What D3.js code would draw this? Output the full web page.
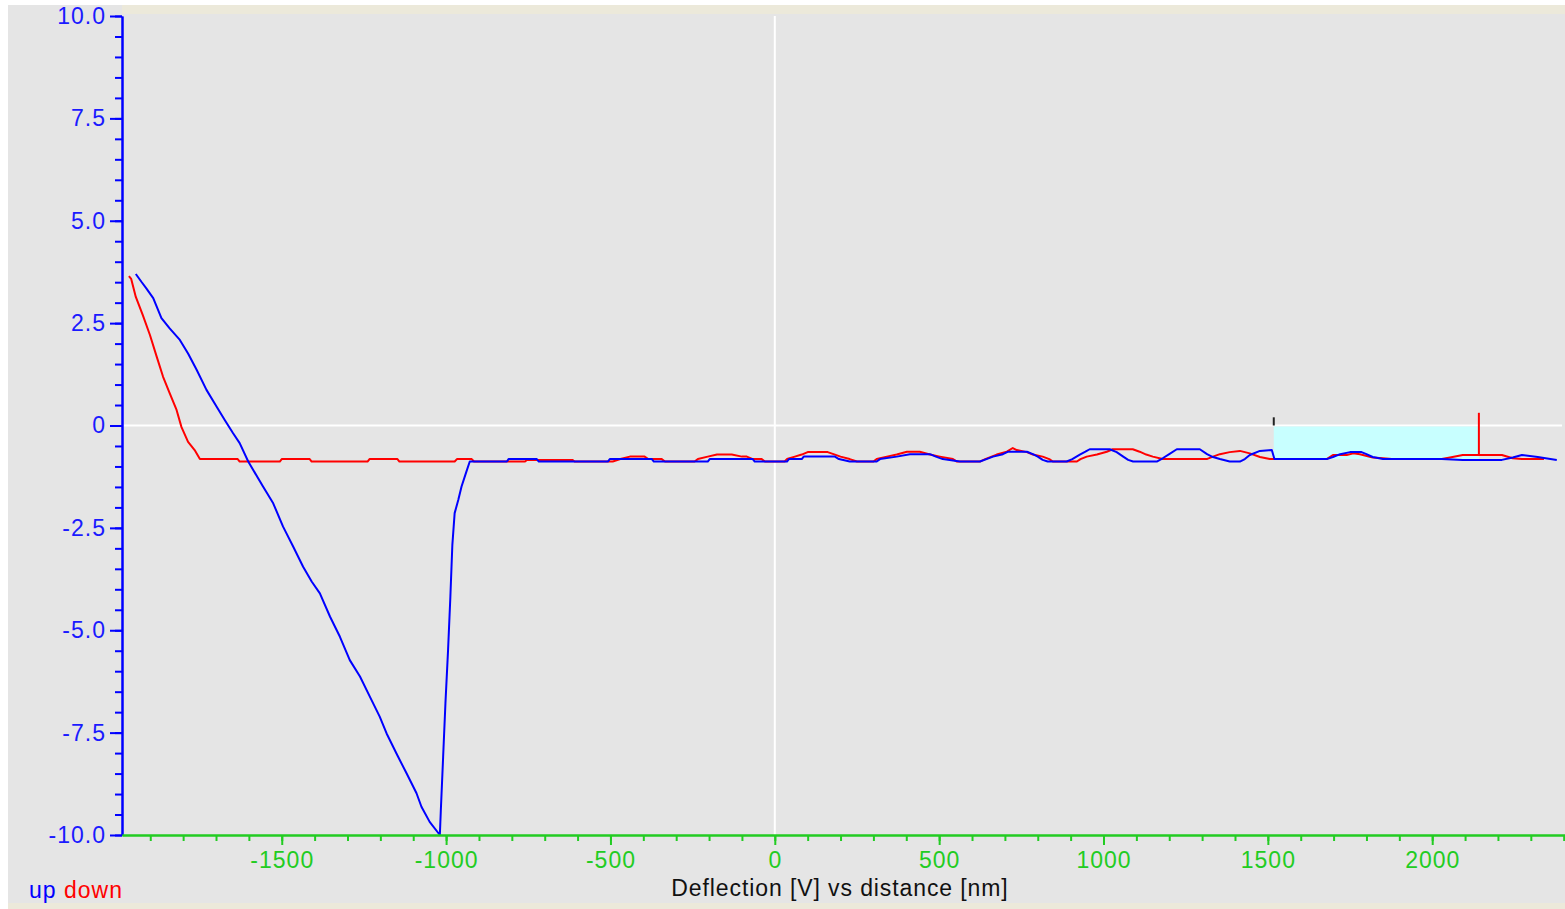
<!DOCTYPE html>
<html>
<head>
<meta charset="utf-8">
<script src="https://cdn.jsdelivr.net/npm/d3@7"></script>
<style>
  html, body { margin: 0; padding: 0; background: #ffffff; }
  svg { display: block; }
  text { font-family: "Liberation Sans", Arial, sans-serif; }
</style>
</head>
<body>
<svg id="chart" width="1565" height="909"></svg>
<script>
// ---- data ----
const upX = [-1944,-1927,-1912,-1891,-1866,-1841,-1810,-1785,-1759,-1729,-1698,-1673,-1648,-1628,-1602,-1557,-1526,-1496,-1465,-1435,-1409,-1384,-1353,-1323,-1293,-1262,-1232,-1202,-1181,-1151,-1120,-1090,-1075,-1050,-1019,-1016,-1009,-1002,-994,-987,-981,-974,-963,-953,-940,-928,-815,-810,-724,-718,-508,-502,-374,-368,-204,-198,-67,-61,37,43,82,88,183,195,228,310,320,371,411,472,490,511,563,624,644,664,694,710,767,785,800,815,830,888,905,928,945,958,1019,1040,1060,1075,1090,1162,1180,1200,1223,1293,1315,1333,1354,1384,1415,1430,1445,1476,1512,1520,1679,1698,1720,1750,1785,1800,1819,1850,2029,2093,2212,2245,2273,2321,2379];
const upY = [3.70,3.51,3.35,3.11,2.62,2.37,2.09,1.76,1.36,0.87,0.46,0.13,-0.19,-0.43,-0.88,-1.49,-1.90,-2.47,-2.96,-3.45,-3.81,-4.10,-4.67,-5.16,-5.73,-6.13,-6.62,-7.11,-7.52,-8.01,-8.50,-8.98,-9.31,-9.68,-10.0,-9.39,-8.09,-6.78,-5.48,-4.18,-2.92,-2.14,-1.82,-1.49,-1.17,-0.88,-0.88,-0.82,-0.82,-0.88,-0.88,-0.82,-0.82,-0.88,-0.88,-0.82,-0.82,-0.88,-0.88,-0.82,-0.82,-0.76,-0.76,-0.82,-0.88,-0.88,-0.82,-0.76,-0.70,-0.70,-0.76,-0.82,-0.88,-0.88,-0.82,-0.76,-0.70,-0.64,-0.64,-0.70,-0.76,-0.84,-0.88,-0.88,-0.82,-0.71,-0.64,-0.58,-0.58,-0.65,-0.76,-0.84,-0.88,-0.88,-0.80,-0.70,-0.58,-0.58,-0.70,-0.77,-0.82,-0.88,-0.88,-0.82,-0.72,-0.62,-0.60,-0.82,-0.82,-0.77,-0.70,-0.65,-0.65,-0.70,-0.77,-0.82,-0.82,-0.84,-0.84,-0.78,-0.72,-0.77,-0.84];

const downX = [-1965,-1958,-1944,-1923,-1901,-1880,-1861,-1841,-1820,-1805,-1785,-1765,-1749,-1634,-1628,-1506,-1500,-1415,-1409,-1239,-1233,-1148,-1142,-974,-967,-922,-915,-760,-754,-615,-609,-493,-470,-441,-396,-385,-344,-334,-244,-234,-204,-176,-131,-100,-85,-67,-40,-30,30,37,61,82,100,161,183,200,228,250,300,310,341,371,402,441,472,502,542,554,624,640,675,706,724,736,767,785,815,835,846,919,930,949,980,1010,1028,1089,1110,1130,1150,1180,1314,1333,1354,1384,1415,1445,1476,1506,1679,1698,1740,1760,1780,1819,1850,1877,2029,2054,2093,2212,2245,2273,2321,2340];
const downY = [3.65,3.58,3.14,2.70,2.21,1.67,1.19,0.79,0.38,-0.04,-0.40,-0.60,-0.82,-0.82,-0.88,-0.88,-0.82,-0.82,-0.88,-0.88,-0.82,-0.82,-0.88,-0.88,-0.82,-0.82,-0.88,-0.88,-0.84,-0.84,-0.88,-0.88,-0.82,-0.76,-0.76,-0.82,-0.82,-0.88,-0.88,-0.82,-0.76,-0.71,-0.71,-0.76,-0.76,-0.82,-0.82,-0.88,-0.88,-0.82,-0.76,-0.71,-0.65,-0.65,-0.71,-0.76,-0.82,-0.88,-0.88,-0.82,-0.76,-0.71,-0.64,-0.64,-0.71,-0.76,-0.82,-0.88,-0.88,-0.82,-0.71,-0.64,-0.55,-0.60,-0.65,-0.71,-0.76,-0.82,-0.88,-0.88,-0.82,-0.76,-0.71,-0.64,-0.58,-0.58,-0.64,-0.71,-0.76,-0.82,-0.82,-0.76,-0.70,-0.65,-0.62,-0.68,-0.77,-0.82,-0.82,-0.72,-0.72,-0.68,-0.70,-0.78,-0.80,-0.82,-0.82,-0.78,-0.72,-0.72,-0.80,-0.82,-0.82,-0.82];

const xMajorTicks = [-1500,-1000,-500,0,500,1000,1500,2000];
const xTickLabels = ["-1500","-1000","-500","0","500","1000","1500","2000"];
const yMajorTicks = [10,7.5,5,2.5,0,-2.5,-5,-7.5,-10];
const yTickLabels = ["10.0","7.5","5.0","2.5","0","-2.5","-5.0","-7.5","-10.0"];
const xDomain = [-1986, 2404];
const yDomain = [-10, 10];
const selectionRange = [1518, 2142];   // highlighted cursor window
const selectionDepth = -0.82;
const startCursorTop = 0.2;
const endCursorTop = 0.31;
const endCursorBottom = -0.72;
const titleText = "Deflection [V] vs distance [nm]";
const legendItems = [{label: "up", color: "#0000ff"}, {label: "down", color: "#ff0000"}];

// ---- layout ----
const svg = d3.select("#chart");
const W = 1565, H = 909;
const plotLeft = 122, plotRight = 1565, plotTop = 16, plotBottom = 835;

const x = d3.scaleLinear().domain(xDomain).range([plotLeft, plotRight]);
const y = d3.scaleLinear().domain(yDomain).range([plotBottom, plotTop]);

// background panels
svg.append("rect").attr("x", 0).attr("y", 0).attr("width", W).attr("height", H).attr("fill", "#ffffff");
svg.append("rect").attr("x", 8).attr("y", 5).attr("width", W - 8).attr("height", 898).attr("fill", "#e5e5e5");
svg.append("rect").attr("x", plotLeft).attr("y", 5).attr("width", W - plotLeft).attr("height", 9).attr("fill", "#ece9da");
svg.append("rect").attr("x", 8).attr("y", 903).attr("width", W - 8).attr("height", 6).attr("fill", "#ece9da");

// white zero grid lines
svg.append("line").attr("x1", plotLeft).attr("x2", 1562).attr("y1", y(0)).attr("y2", y(0))
  .attr("stroke", "#ffffff").attr("stroke-width", 2);
svg.append("line").attr("x1", x(0)).attr("x2", x(0)).attr("y1", plotTop).attr("y2", plotBottom)
  .attr("stroke", "#ffffff").attr("stroke-width", 2);

// cyan selection
svg.append("rect")
  .attr("x", x(selectionRange[0])).attr("y", y(0) + 1)
  .attr("width", x(selectionRange[1]) - x(selectionRange[0]))
  .attr("height", y(selectionDepth) - y(0) - 1)
  .attr("fill", "#c8ffff");
svg.append("line").attr("x1", x(selectionRange[0])).attr("x2", x(selectionRange[0]))
  .attr("y1", y(startCursorTop)).attr("y2", y(0)).attr("stroke", "#222").attr("stroke-width", 2);

// series
const line = d3.line().x(d => x(d[0])).y(d => y(d[1]));
const downData = downX.map((v, i) => [v, downY[i]]);
const upData = upX.map((v, i) => [v, upY[i]]);
svg.append("path").datum(downData).attr("d", line).attr("fill", "none")
  .attr("stroke", "#ff0000").attr("stroke-width", 2).attr("stroke-linejoin", "round");
svg.append("line").attr("x1", x(selectionRange[1])).attr("x2", x(selectionRange[1]))
  .attr("y1", y(endCursorTop)).attr("y2", y(endCursorBottom)).attr("stroke", "#ff0000").attr("stroke-width", 2);
svg.append("path").datum(upData).attr("d", line).attr("fill", "none")
  .attr("stroke", "#0000ff").attr("stroke-width", 2).attr("stroke-linejoin", "round");

// y axis
const yMinor = d3.range(-10, 10.001, 0.5);
const yAxisMinor = svg.append("g").attr("transform", `translate(${plotLeft},0)`)
  .call(d3.axisLeft(y).tickValues(yMinor).tickSize(7).tickSizeOuter(0).tickFormat(""));
const yAxis = svg.append("g").attr("transform", `translate(${plotLeft},0)`)
  .call(d3.axisLeft(y).tickValues(yMajorTicks).tickSize(12).tickSizeOuter(0).tickPadding(4)
    .tickFormat((d, i) => yTickLabels[i]));
[yAxisMinor, yAxis].forEach(g => {
  g.selectAll("path.domain").attr("stroke", "#0000ff").attr("stroke-width", 2);
  g.selectAll(".tick line").attr("stroke", "#0000ff").attr("stroke-width", 2);
});
yAxis.selectAll(".tick text").attr("fill", "#1a1aff")
  .style("font-size", "23px").style("letter-spacing", "1px")
  .style("font-family", "'Liberation Sans', Arial, sans-serif");

// x axis
const xMinor = d3.range(-1900, 2401, 100);
const xAxisMinor = svg.append("g").attr("transform", `translate(0,${plotBottom})`)
  .call(d3.axisBottom(x).tickValues(xMinor).tickSize(6).tickSizeOuter(0).tickFormat(""));
const xAxis = svg.append("g").attr("transform", `translate(0,${plotBottom})`)
  .call(d3.axisBottom(x).tickValues(xMajorTicks).tickSize(10).tickSizeOuter(0).tickPadding(7)
    .tickFormat((d, i) => xTickLabels[i]));
[xAxisMinor, xAxis].forEach(g => {
  g.selectAll("path.domain").attr("stroke", "#22cc22").attr("stroke-width", 2);
  g.selectAll(".tick line").attr("stroke", "#22cc22").attr("stroke-width", 2);
});
xAxis.selectAll(".tick text").attr("fill", "#22cc22")
  .style("font-size", "23px").style("letter-spacing", "1px")
  .style("font-family", "'Liberation Sans', Arial, sans-serif");

// title
svg.append("text").attr("x", 840).attr("y", 896).attr("text-anchor", "middle")
  .attr("fill", "#111").style("font-size", "23px").style("letter-spacing", "0.9px")
  .text(titleText);

// legend
const legend = svg.append("text").attr("x", 29).attr("y", 898)
  .style("font-size", "23px").style("letter-spacing", "1px");
legendItems.forEach((it, i) => {
  legend.append("tspan").attr("fill", it.color).text((i ? " " : "") + it.label);
});
</script>
</body>
</html>
